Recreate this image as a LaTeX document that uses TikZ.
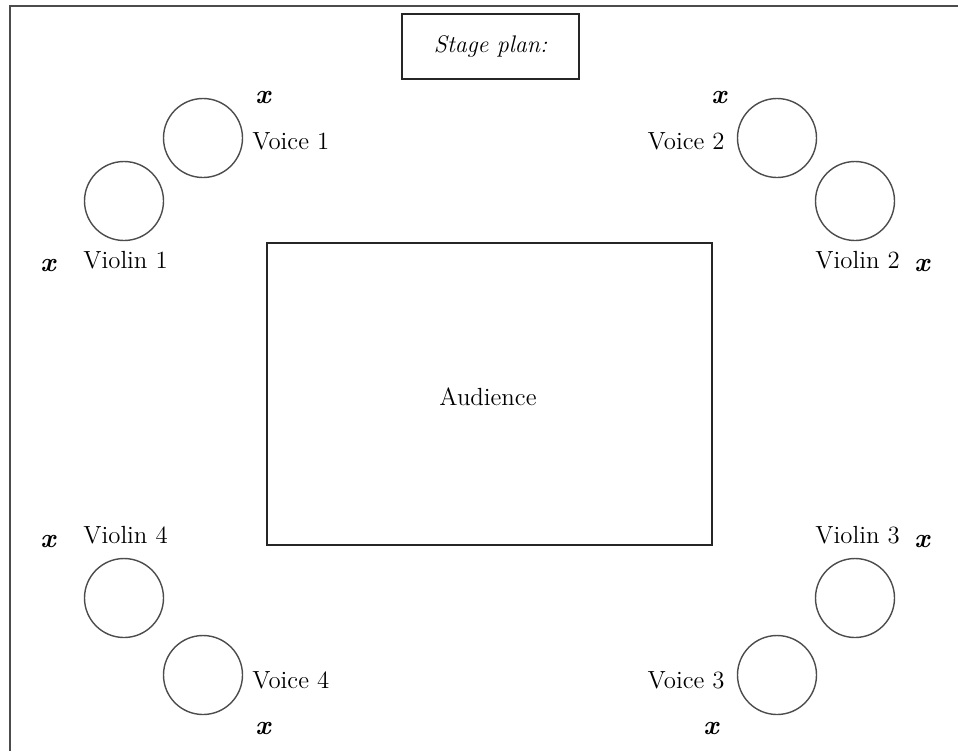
\documentclass[tikz,border=0pt]{standalone}
\usepackage{tikz}

\begin{document}
\begin{tikzpicture}[x=0.5pt,y=-0.5pt,
  seat/.style={draw=black!70,line width=0.7pt,circle,minimum size=39.5pt,inner sep=0pt},
  lbl/.style={inner sep=0pt,font=\fontsize{12.4}{15}\selectfont},
  xpos/.style={inner sep=0pt,font=\fontsize{13.5}{15}\selectfont\bfseries\itshape},
  box/.style={draw=black!85,line width=1pt}]

\useasboundingbox (0,0) rectangle (958,751);
\draw[line width=1pt,color=black!70] (10,751)--(10,6)--(958,6);

\node[box,minimum width=88.5pt,minimum height=32.5pt,font=\fontsize{12}{15}\selectfont\itshape] (plan) at (490.5,46.5) {Stage plan:};
\node[box,minimum width=222.5pt,minimum height=151pt] (audience) at (489.5,394) {};
\node[lbl] (audiencetext) at (488,397) {Audience};

% seats
\foreach \n/\x/\y in {voiceA/203/138,violinA/124/201,voiceB/777/138,violinB/855/201,
                      violinD/124/598,voiceD/203/675,violinC/855/598,voiceC/777/675}
{
\node[seat] (\n) at (\x,\y) {};
}

\node[lbl,anchor=west] (voiceAtext) at (252,141) {Voice 1};
\node[lbl,anchor=west] (violinAtext) at (83,260) {Violin 1};
\node[lbl,anchor=east] (voiceBtext) at (725,141) {Voice 2};
\node[lbl,anchor=west] (violinBtext) at (815,260) {Violin 2};
\node[lbl,anchor=west] (violinCtext) at (815,535) {Violin 3};
\node[lbl,anchor=east] (voiceCtext) at (725,680) {Voice 3};
\node[lbl,anchor=west] (violinDtext) at (83,535) {Violin 4};
\node[lbl,anchor=west] (voiceDtext) at (252,680) {Voice 4};

% players
\foreach \n/\x/\y in {xA/263/97,xB/48/265,xC/719/97,xD/922/265,
                      xE/48/541,xF/263/728,xG/922/541,xH/711/728}
{
\node[xpos] (\n) at (\x,\y) {x};
}
\end{tikzpicture}
\end{document}
